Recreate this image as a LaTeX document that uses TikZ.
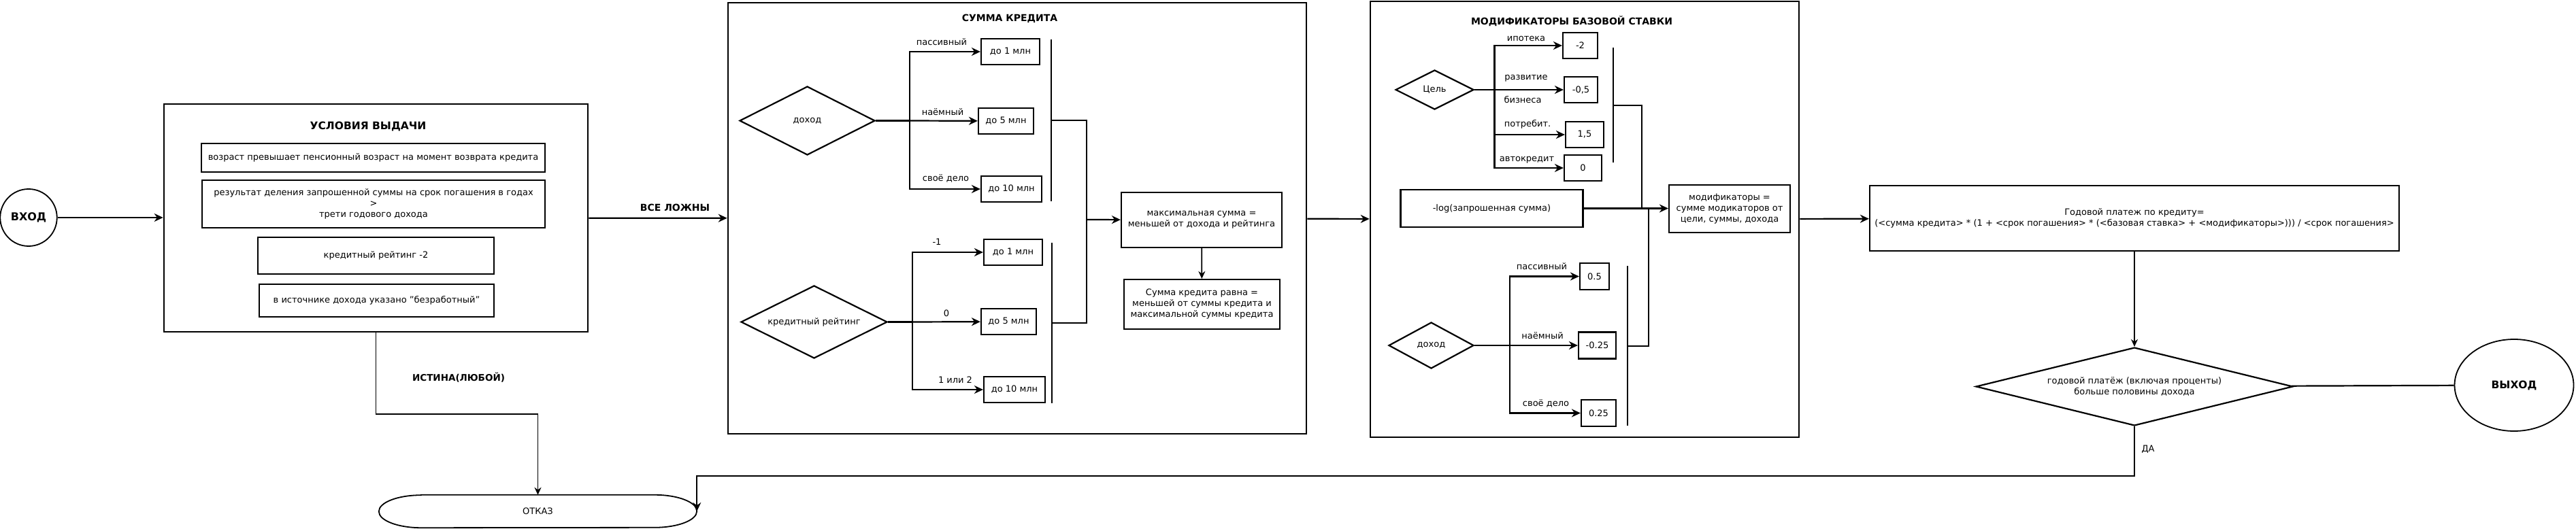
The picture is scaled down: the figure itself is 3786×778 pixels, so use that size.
\documentclass[tikz,border=0pt]{standalone}
\usepackage{fontspec}
\setmainfont{DejaVu Sans}
\usetikzlibrary{shapes.geometric,arrows.meta}

\tikzset{
  sect/.style={draw, line width=2.6pt, inner sep=0pt},
  blk/.style={draw, line width=2.2pt, inner sep=0pt, align=center, font=\fontsize{13pt}{16pt}\selectfont},
  dia/.style={draw, diamond, aspect=2, line width=2.2pt, inner sep=0pt, align=center, font=\fontsize{13pt}{16pt}\selectfont},
  lbl/.style={inner sep=0pt, font=\fontsize{13pt}{16pt}\selectfont},
  ttl/.style={inner sep=0pt, font=\bfseries\fontsize{14pt}{17pt}\selectfont},
  wire/.style={line width=2.2pt},
  bar/.style={line width=1.8pt},
  arr/.style={line width=2.2pt, -{Stealth[length=13pt,width=12pt]}},
  thinarr/.style={line width=1.8pt, -{Stealth[length=11pt,width=10pt]}},
}

\begin{document}
\begin{tikzpicture}[x=1pt, y=-1pt]
\useasboundingbox (0,0) rectangle (3786,778);
% entry and conditions:
\node[draw, ellipse, line width=1.8pt, minimum width=82pt, minimum height=84pt, font=\bfseries\fontsize{16pt}{19pt}\selectfont] (start) at (42,320) {ВХОД};
\node[sect, minimum width=623pt, minimum height=335pt] (cond) at (552.5,320.5) {};
\node[ttl, font=\bfseries\fontsize{15.5pt}{18pt}\selectfont] (condttl) at (541,186) {УСЛОВИЯ ВЫДАЧИ};
\node[blk, minimum width=505pt, minimum height=42pt] (age) at (548.5,232) {возраст превышает пенсионный возраст на момент возврата кредита};
\node[blk, minimum width=504pt, minimum height=70pt] (ratio) at (549,300) {результат деления запрошенной суммы на срок погашения в годах\\>\\трети годового дохода};
\node[blk, minimum width=347pt, minimum height=54pt] (score) at (552.5,376) {кредитный рейтинг -2};
\node[blk, minimum width=345pt, minimum height=48pt] (jobless) at (553.5,442) {в источнике дохода указано "безработный"};
\draw[arr] (start.east) -- (start.east -| cond.west);

% refusal:
\node[lbl, minimum width=467pt, minimum height=48pt] (reject) at (790.5,752) {ОТКАЗ};
\draw[line width=1.8pt] ([xshift=62pt]reject.north west) -- ([xshift=-62pt]reject.north east)
  arc[start angle=90, end angle=-90, x radius=62pt, y radius=24pt]
  -- ([xshift=62pt]reject.south west)
  arc[start angle=270, end angle=90, x radius=62pt, y radius=24pt] -- cycle;
\draw[thinarr] (cond.south) -- ++(0,120) -| (reject.north);
\node[ttl, font=\bfseries\fontsize{13.5pt}{16pt}\selectfont] (anytrue) at (674,555) {ИСТИНА(ЛЮБОЙ)};

% loan amount:
\node[sect, minimum width=850pt, minimum height=634pt] (sum) at (1495,321) {};
\node[ttl] (sumttl) at (1484,27) {СУММА КРЕДИТА};
\draw[arr] (cond) -- (sum);
\node[ttl] (allfalse) at (992,305) {ВСЕ ЛОЖНЫ};
% income branch
\node[dia, minimum width=199pt, minimum height=101pt] (inc) at (1186.5,177.5) {доход};
\node[blk, minimum width=86pt, minimum height=38pt] (inc1) at (1485,76) {до 1 млн};
\node[blk, minimum width=81pt, minimum height=38pt] (inc5) at (1478.5,178) {до 5 млн};
\node[blk, minimum width=89pt, minimum height=38pt] (inc10) at (1486.5,278) {до 10 млн};
\coordinate (incbus) at (1337,177.5);
\draw[wire] (inc.east) -- (incbus);
\draw[arr] (incbus) |- (inc1);
\draw[arr] (incbus) -- (inc5);
\draw[arr] (incbus) |- (inc10);
\node[lbl] (incpas) at (1384,62) {пассивный};
\node[lbl] (inchire) at (1385.5,165) {наёмный};
\node[lbl] (incown) at (1390,262) {своё дело};
\draw[bar] (1545,58) -- (1545,296);
% rating branch
\node[dia, minimum width=215pt, minimum height=107pt] (rate) at (1196.5,473.5) {кредитный рейтинг};
\node[blk, minimum width=86pt, minimum height=38pt] (rate1) at (1489,371) {до 1 млн};
\node[blk, minimum width=81pt, minimum height=38pt] (rate5) at (1482.5,473) {до 5 млн};
\node[blk, minimum width=90pt, minimum height=38pt] (rate10) at (1491,573) {до 10 млн};
\coordinate (ratebus) at (1341,473.5);
\draw[wire] (rate.east) -- (ratebus);
\draw[arr] (ratebus) |- (rate1);
\draw[arr] (ratebus) -- (rate5);
\draw[arr] (ratebus) |- (rate10);
\node[lbl] (ratem) at (1377,356) {-1};
\node[lbl] (ratez) at (1391,461) {0};
\node[lbl] (ratep) at (1404,559) {1 или 2};
\draw[bar] (1546,357) -- (1546,593);
% merge
\coordinate (incjoin) at (1545,177);
\coordinate (ratejoin) at (1546,475);
\coordinate (sumjoin) at (1597,323);
\draw[wire] (incjoin) -| (sumjoin);
\draw[wire] (ratejoin) -| (sumjoin);
\node[blk, minimum width=236pt, minimum height=81pt] (maxsum) at (1766,323.5) {максимальная сумма =\\меньшей от дохода и рейтинга};
\node[blk, minimum width=229pt, minimum height=73pt] (loan) at (1766.5,447.5) {Сумма кредита равна =\\меньшей от суммы кредита и\\максимальной суммы кредита};
\draw[arr] (sumjoin) -- (maxsum);
\draw[thinarr] (maxsum) -- (loan);

% rate modifiers:
\node[sect, minimum width=630pt, minimum height=641pt] (mods) at (2329,322.5) {};
\node[ttl] (modsttl) at (2310,31) {МОДИФИКАТОРЫ БАЗОВОЙ СТАВКИ};
\draw[arr] (sum) -- (mods);
% goal branch
\node[dia, minimum width=115pt, minimum height=58pt] (goal) at (2108.5,132) {Цель};
\node[blk, minimum width=51pt, minimum height=38pt] (goal1) at (2322.5,67) {-2};
\node[blk, minimum width=49pt, minimum height=38pt] (goal2) at (2323.5,132) {-0,5};
\node[blk, minimum width=56pt, minimum height=38pt] (goal3) at (2329,198) {1,5};
\node[blk, minimum width=55pt, minimum height=38pt] (goal4) at (2326.5,247) {0};
\coordinate (goalbus) at (2196.5,132);
\draw[wire] (goal.east) -- (goalbus);
\draw[arr] (goalbus) |- (goal1);
\draw[arr] (goalbus) -- (goal2);
\draw[arr] (goalbus) |- (goal3);
\draw[arr] (goalbus) |- (goal4);
\node[lbl] (gmort) at (2243,57) {ипотека};
\node[lbl] (gbiz) at (2243,115) {развитие};
\node[lbl] (gbiz2) at (2238,147) {бизнеса};
\node[lbl] (gcons) at (2245,183) {потребит.};
\node[lbl] (gcar) at (2244,235) {автокредит};
\draw[bar] (2371,70) -- (2371,239);
% requested sum
\node[blk, minimum width=268pt, minimum height=55pt] (logsum) at (2192.5,306.5) {-log(запрошенная сумма)};
\node[blk, minimum width=178pt, minimum height=70pt] (modsum) at (2542,307) {модификаторы =\\сумме модикаторов от\\цели, суммы, дохода};
\draw[arr] (logsum.east) -- (logsum.east -| modsum.west);
% income branch
\node[dia, minimum width=125pt, minimum height=68pt] (minc) at (2103.5,508) {доход};
\node[blk, minimum width=43pt, minimum height=39pt] (minc1) at (2343.5,406.5) {0.5};
\node[blk, minimum width=55pt, minimum height=39pt] (minc2) at (2347.5,508) {-0.25};
\node[blk, minimum width=51pt, minimum height=39pt] (minc3) at (2349.5,607.5) {0.25};
\coordinate (mincbus) at (2219,508);
\draw[wire] (minc.east) -- (mincbus);
\draw[arr] (mincbus) |- (minc1);
\draw[arr] (mincbus) -- (minc2);
\draw[arr] (mincbus) |- (minc3);
\node[lbl] (mpas) at (2266,392) {пассивный};
\node[lbl] (mhire) at (2267,494) {наёмный};
\node[lbl] (mown) at (2272,593) {своё дело};
\draw[bar] (2392,391) -- (2392,626);
% merge
\coordinate (goaljoin) at (2371,155);
\coordinate (goaldrop) at (2413,306.5);
\coordinate (mincjoin) at (2392,509);
\coordinate (mincrise) at (2423,306.5);
\draw[wire] (goaljoin) -| (goaldrop);
\draw[wire] (mincjoin) -| (mincrise);

% yearly payment and exit:
\node[blk, minimum width=778pt, minimum height=96pt] (formula) at (3137,321) {Годовой платеж по кредиту=\\(<сумма кредита> * (1 + <срок погашения> * (<базовая ставка> + <модификаторы>))) / <срок погашения>};
\draw[arr] (mods) -- (formula);
\node[dia, aspect=4, minimum width=466pt, minimum height=115pt] (check) at (3137,568.5) {годовой платёж (включая проценты)\\больше половины дохода};
\draw[thinarr] (formula) -- (check);
\node[draw, ellipse, line width=1.8pt, minimum width=175pt, minimum height=135pt, font=\bfseries\fontsize{15.5pt}{18pt}\selectfont] (exit) at (3695,566.5) {ВЫХОД};
\draw[wire] (check) -- (exit);
\draw[arr] (check.south) -- ++(0,73) -| (reject.east);
\node[lbl] (yes) at (3157,661) {ДА};
\end{tikzpicture}
\end{document}
